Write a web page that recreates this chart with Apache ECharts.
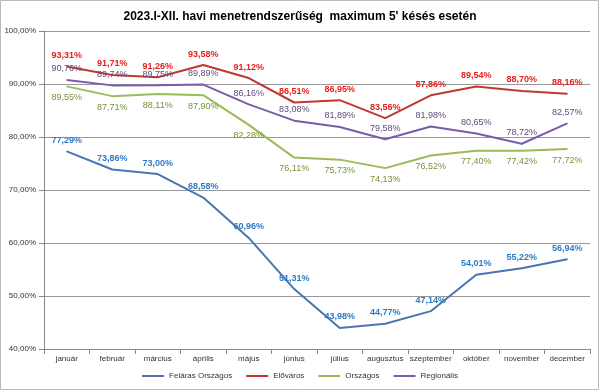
<!DOCTYPE html>
<html><head><meta charset="utf-8">
<script src="https://cdn.jsdelivr.net/npm/echarts@6/dist/echarts.min.js"></script>
<style>html,body{margin:0;padding:0;background:#fff}#c{width:600px;height:391px}</style>
</head><body><div id="c"></div>
<script>
var months = ['január','február','március','április','május','június','július','augusztus','szeptember','október','november','december'];
var felaras = [77.29,73.86,73.00,68.58,60.96,51.31,43.98,44.77,47.14,54.01,55.22,56.94];
var elovaros = [93.31,91.71,91.26,93.58,91.12,86.51,86.95,83.56,87.86,89.54,88.70,88.16];
var orszagos = [89.55,87.71,88.11,87.90,82.28,76.11,75.73,74.13,76.52,77.40,77.42,77.72];
var regionalis = [90.76,89.74,89.75,89.89,86.16,83.08,81.89,79.58,81.98,80.65,78.72,82.57];
var yTicks = [40,50,60,70,80,90,100];

function pct(v){ return v.toFixed(2).replace('.',',') + '%'; }
var chart = echarts.init(document.getElementById('c'));
function ser(name, data, color, lblColor, pos, bold){
  return {name:name, type:'line', data:data, symbol:'circle', symbolSize:1, showSymbol:true, smooth:false,
    lineStyle:{color:color,width:2}, itemStyle:{color:color},
    labelLayout:{hideOverlap:false},
    label:{show:true, position:pos, distance:6, color:lblColor, fontSize:9, fontWeight:bold?'bold':'normal',
      fontFamily:'Liberation Sans, Arial, sans-serif',
      formatter:function(p){return pct(p.value);}}};
}
chart.setOption({
  animation:false,
  title:{text:'2023.I-XII. havi menetrendszerűség  maximum 5\' késés esetén', left:'center', top:6,
    textStyle:{fontSize:12, fontWeight:'bold', color:'#000', fontFamily:'Liberation Sans, Arial, sans-serif'}},
  graphic:[{type:'rect', shape:{x:0.5,y:0.5,width:598,height:389}, style:{fill:'none', stroke:'#bbb', lineWidth:1}, silent:true}],
  legend:{bottom:6, itemWidth:22, itemHeight:2, icon:'rect', itemGap:14,
    textStyle:{fontSize:8, color:'#333', fontFamily:'Liberation Sans, Arial, sans-serif'},
    data:['Feláras Országos','Előváros','Országos','Regionális']},
  grid:{left:44, right:10, top:31, bottom:42},
  xAxis:{type:'category', data:months, boundaryGap:true,
    axisLine:{lineStyle:{color:'#888'}}, axisTick:{show:true, lineStyle:{color:'#888'}},
    axisLabel:{fontSize:8, color:'#333', margin:6, interval:0, fontFamily:'Liberation Sans, Arial, sans-serif'}},
  yAxis:{type:'value', min:40, max:100, interval:10,
    axisLine:{show:true, lineStyle:{color:'#888'}}, axisTick:{show:true, lineStyle:{color:'#888'}},
    splitLine:{lineStyle:{color:'#999'}},
    axisLabel:{fontSize:8, color:'#333', fontFamily:'Liberation Sans, Arial, sans-serif',
      formatter:function(v){return v.toFixed(2).replace('.',',')+'%';}}},
  series:[
    ser('Feláras Országos', felaras, '#4A74B4', '#2E7BC4', 'top', true),
    ser('Előváros', elovaros, '#C0392F', '#E8201C', 'top', true),
    ser('Országos', orszagos, '#9BBB59', '#77933C', 'bottom', false),
    ser('Regionális', regionalis, '#7A5CA8', '#5F4A7B', 'top', false)
  ]
});
</script></body></html>
